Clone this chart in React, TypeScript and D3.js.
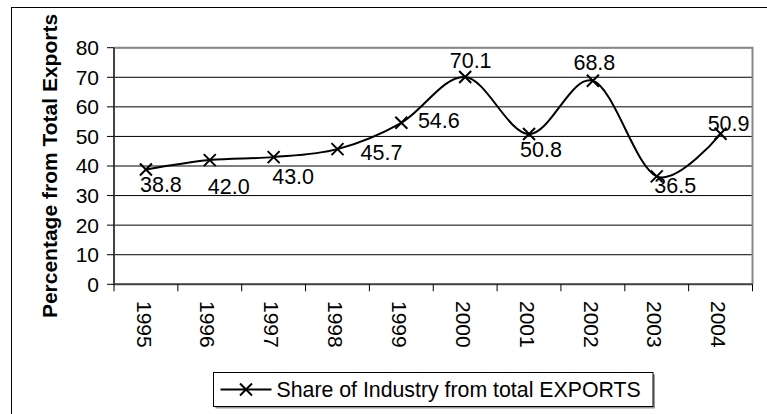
import React from "react";
import * as d3 from "d3";

const years = ["1995", "1996", "1997", "1998", "1999", "2000", "2001", "2002", "2003", "2004"];
const shares = [38.8, 42.0, 43.0, 45.7, 54.6, 70.1, 50.8, 68.8, 36.5, 50.9];
const yTicks = [0, 10, 20, 30, 40, 50, 60, 70, 80];
const seriesName = "Share of Industry from total EXPORTS";
const yTitle = "Percentage from Total Exports";
// label offsets relative to each point (styling, not data)
const labelDx = [15, 19, 19.5, 44, 37.5, 5.5, 12, 1.5, 18.5, 8];
const labelDy = [22, 34, 27, 11, 5.5, -9, 22.5, -11, 17, -3];

const W = 767;
const H = 414;
const FONT = "'Liberation Sans', Arial, sans-serif";

export default function App() {
  const left = 114;
  const right = 752.5;
  const top = 47.7;
  const bottom = 284.3;

  const x = d3.scaleBand<string>().domain(years).range([left, right]);
  const y = d3.scaleLinear().domain([0, 80]).range([bottom, top]);
  const cx = (d: string) => (x(d) as number) + x.bandwidth() / 2;

  const pts: [number, number][] = years.map((yr, i) => [cx(yr), y(shares[i])]);
  const line = d3.line().curve(d3.curveCardinal.tension(0))(pts) || "";

  const m = 6;
  const cross = (px: number, py: number, k: string) => (
    <path
      key={k}
      d={`M${px - m},${py - m}L${px + m},${py + m}M${px - m},${py + m}L${px + m},${py - m}`}
      stroke="#000"
      strokeWidth={2}
      fill="none"
    />
  );

  const legX = 213.5;
  const legY = 372.5;
  const legW = 439.5;
  const legH = 34;
  const legCy = legY + legH / 2;

  return (
    <svg
      width={W}
      height={H}
      style={{ position: "absolute", left: 0, top: 0, background: "#fff" }}
      fontFamily={FONT}
    >
      <rect x={0} y={0} width={W} height={H} fill="#fff" />
      {/* chart outer border */}
      <rect x={11.5} y={7.5} width={W + 20} height={H + 20} fill="none" stroke="#000" strokeWidth={1} />

      {/* gridlines */}
      {yTicks.map((t) => (
        <line key={"g" + t} x1={left} x2={right} y1={y(t)} y2={y(t)} stroke="#000" strokeWidth={1} />
      ))}
      {/* plot border top/right */}
      <path d={`M${left},${top}L${right},${top}L${right},${bottom}`} stroke="#888" strokeWidth={2} fill="none" />

      {/* y axis */}
      <line x1={left} x2={left} y1={top} y2={bottom + 1} stroke="#444" strokeWidth={2} />
      {yTicks.map((t) => (
        <g key={"yt" + t}>
          <line x1={left - 7} x2={left} y1={y(t)} y2={y(t)} stroke="#000" strokeWidth={1} />
          <text x={99} y={y(t)} dy="0.35em" textAnchor="end" fontSize={21} fill="#000">
            {t}
          </text>
        </g>
      ))}

      {/* x axis */}
      <line x1={left} x2={right} y1={bottom} y2={bottom} stroke="#444" strokeWidth={2} />
      {years.map((yr) => (
        <line
          key={"xt" + yr}
          x1={x(yr) as number}
          x2={x(yr) as number}
          y1={bottom}
          y2={bottom + 7}
          stroke="#000"
          strokeWidth={1}
        />
      ))}
      <line x1={right} x2={right} y1={bottom} y2={bottom + 7} stroke="#000" strokeWidth={1} />
      {years.map((yr) => (
        <text
          key={"xl" + yr}
          transform={`translate(${cx(yr) - 2},301) rotate(90)`}
          dy="0.35em"
          textAnchor="start"
          fontSize={21}
          fill="#000"
        >
          {yr}
        </text>
      ))}

      {/* y title */}
      <text
        transform={`translate(57,${(top + bottom) / 2}) rotate(-90)`}
        textAnchor="middle"
        fontSize={21}
        fontWeight="bold"
        fill="#000"
      >
        {yTitle}
      </text>

      {/* series */}
      <path d={line} stroke="#000" strokeWidth={2} fill="none" />
      {pts.map((p, i) => cross(p[0], p[1], "mk" + i))}
      {pts.map((p, i) => (
        <text
          key={"dl" + i}
          x={p[0] + labelDx[i]}
          y={p[1] + labelDy[i]}
          textAnchor="middle"
          fontSize={21.5}
          fill="#000"
        >
          {shares[i].toFixed(1)}
        </text>
      ))}

      {/* legend */}
      <rect x={legX + 2} y={legY + 2} width={legW} height={legH} fill="#999" />
      <rect x={legX} y={legY} width={legW} height={legH} fill="#fff" stroke="#000" strokeWidth={1} />
      <line x1={legX + 7} x2={legX + 58} y1={legCy} y2={legCy} stroke="#000" strokeWidth={2} />
      {cross(legX + 32.5, legCy, "legmk")}
      <text x={legX + 63} y={legCy} dy="0.35em" fontSize={21.3} fill="#000">
        {seriesName}
      </text>
    </svg>
  );
}
